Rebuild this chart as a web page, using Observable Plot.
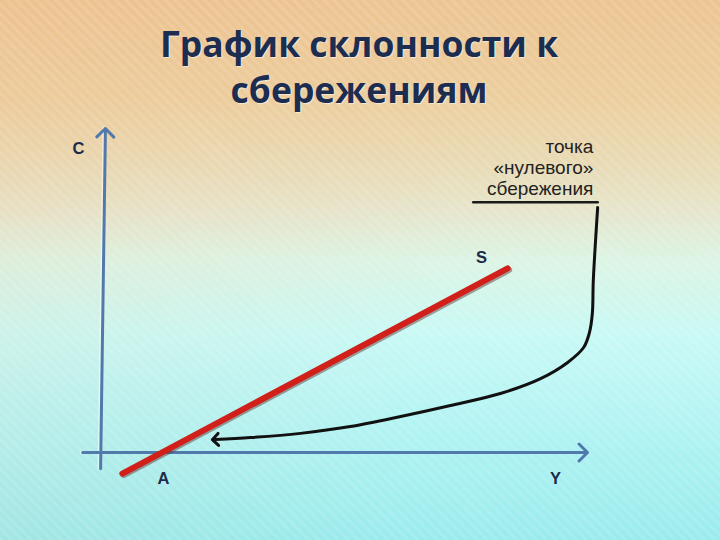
<!DOCTYPE html>
<html>
<head>
<meta charset="utf-8">
<script src="https://cdn.jsdelivr.net/npm/d3@7"></script>
<script src="https://cdn.jsdelivr.net/npm/@observablehq/plot@0.6"></script>
<style>
  html, body { margin: 0; padding: 0; }
  #slide {
    position: relative; width: 720px; height: 540px; overflow: hidden;
    background:
      repeating-linear-gradient(45deg, rgba(255,255,255,0.10) 0px, rgba(255,255,255,0.10) 3px, rgba(255,255,255,0) 3px, rgba(255,255,255,0) 7px),
      linear-gradient(100deg, rgba(240,170,120,0.10), rgba(240,170,120,0) 60%),
      linear-gradient(to bottom, #ecc592 0%, #ecce9e 18%, #e9d9b2 29%, #e6e5cb 39%, #dcf4e4 48%, #c8f9f5 62%, #b1f3f3 80%, #9aebed 100%);
  }
  #title {
    position: absolute; left: 0; top: 20px; width: 718px; text-align: center;
    font-family: "Open Sans", sans-serif; font-weight: 700; font-size: 35.5px; line-height: 46px;
    color: #1c2d50; text-shadow: 1px 1px 1px rgba(255,255,255,0.55);
  }
  #chart { position: absolute; left: 0; top: 0; }
</style>
</head>
<body>
<div id="slide">
  <div id="chart"></div>
  <div id="title">График склонности к<br>сбережениям</div>
</div>
<script>
// Axes (C vertical, Y horizontal)
const axisNames = ["C", "Y"];
const axisStartX = [-0.6, -4.3];
const axisStartY = [-5, 0];
const axisEndX = [0.4, 100];
const axisEndY = [100, 0];

// Savings line S
const sLineX = [3.9, 83.5];
const sLineY = [-6.5, 56.8];

// Curved arrow from the zero-saving point
const curveX = [102.1, 101.2, 101.0, 100.4, 99.2, 95.9, 90.3, 82.0, 71.7, 61.4, 51.0, 40.7, 30.4, 23.1];
const curveY = [75.6, 53.1, 42.9, 37.0, 32.4, 27.8, 22.8, 18.2, 14.5, 11.1, 8.0, 5.9, 4.6, 4.0];

// Underline of the note
const noteLineX = [76.4, 102.1];
const noteLineY = [77.2, 77.2];

// Labels
const labels = ["C", "S", "A", "Y"];
const labelX = [-5.2, 78.1, 12.4, 93.4];
const labelY = [93.8, 60.2, -8.0, -8.0];

const noteText = "точка\n«нулевого»\nсбережения";
const noteX = 101.2;
const noteY = 88.0;

const axesData = axisNames.map((n, i) => ({n, x1: axisStartX[i], y1: axisStartY[i], x2: axisEndX[i], y2: axisEndY[i]}));
const sData = sLineX.map((x, i) => ({x, y: sLineY[i]}));
const curveData = curveX.map((x, i) => ({x, y: curveY[i]}));
const noteLine = noteLineX.map((x, i) => ({x, y: noteLineY[i]}));
const labelData = labels.map((t, i) => ({t, x: labelX[i], y: labelY[i]}));

const chart = Plot.plot({
  width: 720,
  height: 540,
  marginLeft: 103,
  marginRight: 133,
  marginTop: 128,
  marginBottom: 88,
  x: {domain: [0, 100], axis: null},
  y: {domain: [0, 100], axis: null},
  style: {background: "transparent", overflow: "visible"},
  marks: [
    Plot.arrow(axesData, {x1: "x1", y1: "y1", x2: "x2", y2: "y2", stroke: "#ffffff", strokeOpacity: 0.5, strokeWidth: 3, dx: -1.5, headLength: 0}),
    Plot.arrow(axesData, {x1: "x1", y1: "y1", x2: "x2", y2: "y2", stroke: "#5279ab", strokeWidth: 3, headLength: 6, headAngle: 90}),
    Plot.line(sData, {x: "x", y: "y", stroke: "#5a2a2a", strokeOpacity: 0.45, strokeWidth: 6, dx: 1.5, dy: 1.5}),
    Plot.line(sData, {x: "x", y: "y", stroke: "#d11f1a", strokeWidth: 6}),
    Plot.line(noteLine, {x: "x", y: "y", stroke: "#1a1a1a", strokeWidth: 2.5}),
    Plot.line(curveData, {x: "x", y: "y", curve: "catmull-rom", stroke: "#111111", strokeWidth: 3, markerEnd: "arrow"}),
    Plot.text(labelData, {x: "x", y: "y", text: "t", fontSize: 16.5, fontWeight: "bold", fontFamily: "Liberation Sans, Arial, sans-serif", fill: "#1d2b4a"}),
    Plot.text([noteText], {x: () => noteX, y: () => noteY, text: d => d, textAnchor: "end", lineHeight: 1.1, fontSize: 19, fontFamily: "Liberation Sans, Arial, sans-serif", fill: "#222222"})
  ]
});
document.getElementById("chart").appendChild(chart);
</script>
</body>
</html>
